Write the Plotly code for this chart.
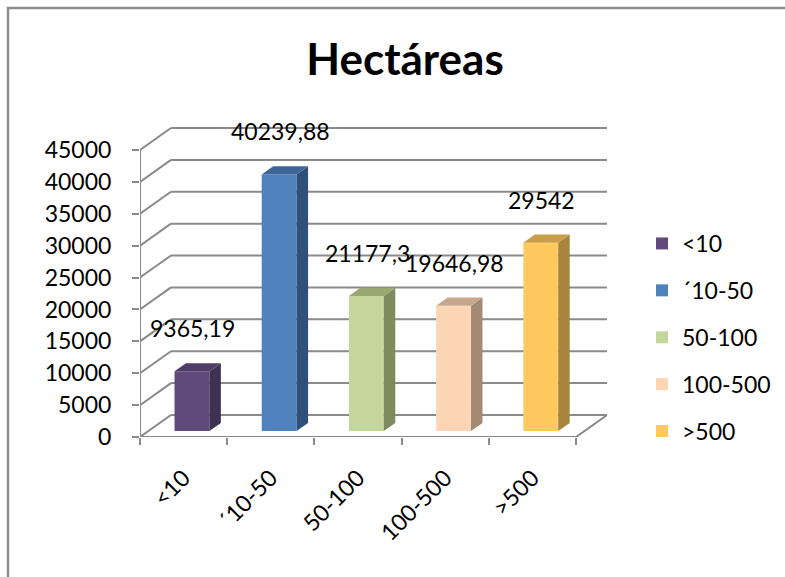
import plotly.graph_objects as go

# ---- data -------------------------------------------------------------
categories = ["<10", "´10-50", "50-100", "100-500", ">500"]
hectareas = [9365.19, 40239.88, 21177.3, 19646.98, 29542]
y_ticks = [0, 5000, 10000, 15000, 20000, 25000, 30000, 35000, 40000, 45000]

front_colors = ["#604A7B", "#4F81BD", "#C3D69B", "#FCD5B5", "#FFC95F"]
side_colors = ["#3F3152", "#30507A", "#7D8B5E", "#A38A76", "#A8843C"]
top_colors = ["#4F3D68", "#3E6598", "#98AA72", "#C9A78D", "#C99F4A"]

# ---- geometry of the oblique 3-D box (axis units) -------------------
PX_W, PX_H = 785, 577
M_L, M_R, M_T, M_B = 140, 178, 110, 140
DEPTH_X = 0.355          # horizontal depth shift, in category units
DEPTH_Y = 3450           # vertical depth shift, in value units
BAR_Z0, BAR_Z1 = 0.27, 0.64   # depth of bar front / back face (0..1)
BAR_W = 0.40
Y_MAX = y_ticks[-1]
Y_TOP = 51270
X_LO, X_HI = -0.5, len(categories) - 0.5 + DEPTH_X

GRID = "#8A8A8A"
FONT = "Lato"
FS = 23

fig = go.Figure()

# ---- bars: front face as a bar, side and top faces as polygons --------
sdx = (BAR_Z1 - BAR_Z0) * DEPTH_X
sdy = (BAR_Z1 - BAR_Z0) * DEPTH_Y
for i, (cat, val) in enumerate(zip(categories, hectareas)):
    xc = i + BAR_Z0 * DEPTH_X
    base = BAR_Z0 * DEPTH_Y
    fig.add_trace(go.Bar(
        x=[xc], y=[val], base=[base], width=BAR_W,
        marker=dict(color=front_colors[i], line=dict(width=0)),
        name=cat, legendgroup=cat, hoverinfo="name+y",
    ))
    xl, xr, top = xc - BAR_W / 2, xc + BAR_W / 2, base + val
    fig.add_trace(go.Scatter(
        x=[xr, xr, xr + sdx, xr + sdx, xr],
        y=[base, top, top + sdy, base + sdy, base],
        fill="toself", fillcolor=side_colors[i], mode="lines",
        line=dict(width=0, color=side_colors[i]),
        showlegend=False, legendgroup=cat, hoverinfo="skip",
    ))
    fig.add_trace(go.Scatter(
        x=[xl, xr, xr + sdx, xl + sdx, xl],
        y=[top, top, top + sdy, top + sdy, top],
        fill="toself", fillcolor=top_colors[i], mode="lines",
        line=dict(width=0, color=top_colors[i]),
        showlegend=False, legendgroup=cat, hoverinfo="skip",
    ))
    fig.add_annotation(
        x=xc, y=top, text=str(val).replace(".", ","), showarrow=False,
        xanchor="center", yanchor="middle", yshift=43, xshift=1,
        font=dict(family=FONT, size=FS, color="black"),
    )

# ---- walls, floor and axis line ---------------------------------------
shapes = []
line = dict(color=GRID, width=2)
x_front0, x_front1 = -0.5, len(categories) - 0.5
for v in y_ticks:
    # back-wall gridline
    shapes.append(dict(type="line", xref="x", yref="y", layer="below",
                       x0=x_front0 + DEPTH_X, x1=x_front1 + DEPTH_X,
                       y0=v + DEPTH_Y, y1=v + DEPTH_Y, line=line))
    # side-wall gridline
    shapes.append(dict(type="line", xref="x", yref="y", layer="below",
                       x0=x_front0, x1=x_front0 + DEPTH_X,
                       y0=v, y1=v + DEPTH_Y, line=line))
# floor front edge and right edge
shapes.append(dict(type="line", xref="x", yref="y", layer="below",
                   x0=x_front0, x1=x_front1, y0=0, y1=0, line=line))
shapes.append(dict(type="line", xref="x", yref="y", layer="below",
                   x0=x_front1, x1=x_front1 + DEPTH_X, y0=0, y1=DEPTH_Y,
                   line=line))
# value axis line
shapes.append(dict(type="line", xref="x", yref="y", layer="below",
                   x0=x_front0, x1=x_front0, y0=0, y1=Y_MAX, line=line))

# chart frame
pw, ph = PX_W - M_L - M_R, PX_H - M_T - M_B
shapes.append(dict(type="rect", xref="paper", yref="paper",
                   x0=(8 - M_L) / pw, x1=(PX_W + 10 - M_L) / pw,
                   y0=(PX_H - M_B - (PX_H + 10)) / ph, y1=(PX_H - M_B - 8) / ph,
                   line=dict(color="#8C8C8C", width=2.5),
                   fillcolor="rgba(0,0,0,0)"))

fig.update_layout(
    width=PX_W, height=PX_H,
    margin=dict(l=M_L, r=M_R, t=M_T, b=M_B, autoexpand=False),
    paper_bgcolor="white", plot_bgcolor="white",
    barmode="overlay",
    shapes=shapes,
    font=dict(family=FONT, size=FS, color="black"),
    title=dict(text="<b>Hectáreas</b>", font=dict(family=FONT, size=44),
               x=405 / PX_W, xanchor="center", xref="container",
               y=1 - 60 / PX_H, yanchor="middle", yref="container"),
    legend=dict(xref="container", yref="container",
                x=642 / PX_W, y=1 - 222 / PX_H, xanchor="left", yanchor="top",
                font=dict(family=FONT, size=FS), tracegroupgap=14,
                bgcolor="rgba(0,0,0,0)"),
    showlegend=True,
    xaxis=dict(
        range=[X_LO, X_HI], tickmode="array",
        tickvals=list(range(len(categories))), ticktext=categories,
        tickangle=-45, ticks="", showgrid=False, zeroline=False,
        showline=False, automargin=False, ticklabelstandoff=22,
        tickfont=dict(family=FONT, size=FS),
        minor=dict(tickmode="array",
                   tickvals=[k - 0.5 for k in range(len(categories) + 1)],
                   ticks="outside", ticklen=7, tickwidth=2, tickcolor=GRID,
                   showgrid=False),
    ),
    yaxis=dict(
        range=[0, Y_TOP], tickmode="array", tickvals=y_ticks,
        ticktext=[str(t) for t in y_ticks],
        ticks="outside", ticklen=7, tickwidth=2, tickcolor=GRID,
        showgrid=False, zeroline=False, showline=False, automargin=False,
        ticklabelstandoff=16, tickfont=dict(family=FONT, size=FS),
    ),
)

fig.write_html("out.html")
